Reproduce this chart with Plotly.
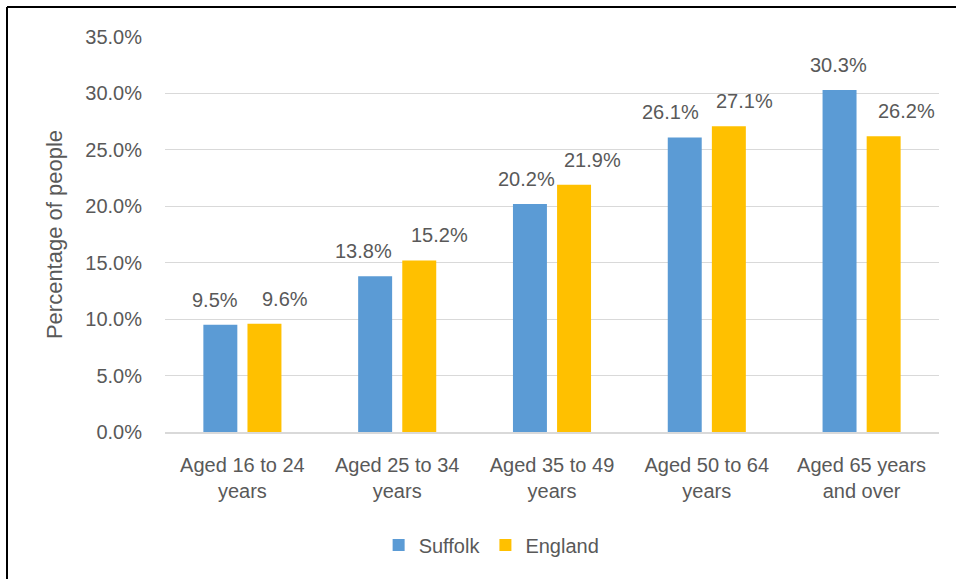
import plotly.graph_objects as go

categories = ["Aged 16 to 24<br>years", "Aged 25 to 34<br>years", "Aged 35 to 49<br>years",
              "Aged 50 to 64<br>years", "Aged 65 years<br>and over"]
suffolk = [9.5, 13.8, 20.2, 26.1, 30.3]
england = [9.6, 15.2, 21.9, 27.1, 26.2]
y_ticks = [0, 5, 10, 15, 20, 25, 30, 35]

FONT = "Liberation Sans, Arial, sans-serif"
GREY = "#595959"

# horizontal nudges (px) that keep neighbouring value labels apart
suffolk_label_dx = [-27, -34, -26, -36, -23]
england_label_dx = [43, 42, 40, 38, 45]

fig = go.Figure()
for name, vals, color in [("Suffolk", suffolk, "#5B9BD5"), ("England", england, "#FFC000")]:
    fig.add_trace(go.Bar(name=name, x=categories, y=vals, marker_color=color, marker_line_width=0))

annotations = []
for vals, dxs in [(suffolk, suffolk_label_dx), (england, england_label_dx)]:
    for cat, v, dx in zip(categories, vals, dxs):
        annotations.append(dict(
            x=cat, y=v, xref="x", yref="y", text=f"{v:.1f}%", showarrow=False,
            xanchor="center", yanchor="middle", xshift=dx, yshift=25,
            font=dict(size=20, color=GREY, family=FONT),
        ))

# plot area geometry in pixels
L, R, T, B = 165, 17, 37, 147
W, H = 956, 579
pw, ph = W - L - R, H - T - B

fig.update_layout(
    width=W, height=H,
    margin=dict(l=L, r=R, t=T, b=B),
    plot_bgcolor="white", paper_bgcolor="white",
    barmode="group", bargap=0.43, bargroupgap=0.23,
    font=dict(family=FONT, color=GREY, size=20),
    xaxis=dict(showgrid=False, showline=True, linecolor="#D9D9D9", linewidth=1.5,
               ticks="", ticklabelstandoff=14, tickfont=dict(size=20, color=GREY)),
    yaxis=dict(range=[0, 35], tickvals=y_ticks, ticktext=[f"{t:.1f}%" for t in y_ticks],
               showgrid=True, gridcolor="#D9D9D9", gridwidth=1.3, zeroline=False,
               ticks="", ticklabelstandoff=22, tickfont=dict(size=20, color=GREY),
               title=dict(text="Percentage of people", font=dict(size=22, color=GREY), standoff=16)),
    legend=dict(orientation="h", x=0.422, xanchor="center", y=-(545 - 432) / ph, yanchor="middle",
                font=dict(size=20, color=GREY), itemwidth=30, tracegroupgap=0),
    showlegend=True,
    annotations=annotations,
    shapes=[
        dict(type="line", xref="paper", yref="paper",
             x0=(7 - L) / pw, x1=(7 - L) / pw, y0=(H - 7 - B) / ph, y1=-(B + 5) / ph,
             line=dict(color="black", width=2)),
        dict(type="line", xref="paper", yref="paper",
             x0=(7 - L) / pw, x1=(W + 5 - L) / pw, y0=(H - B - 7) / ph, y1=(H - B - 7) / ph,
             line=dict(color="black", width=2)),
    ],
)

fig.write_html("out.html")
